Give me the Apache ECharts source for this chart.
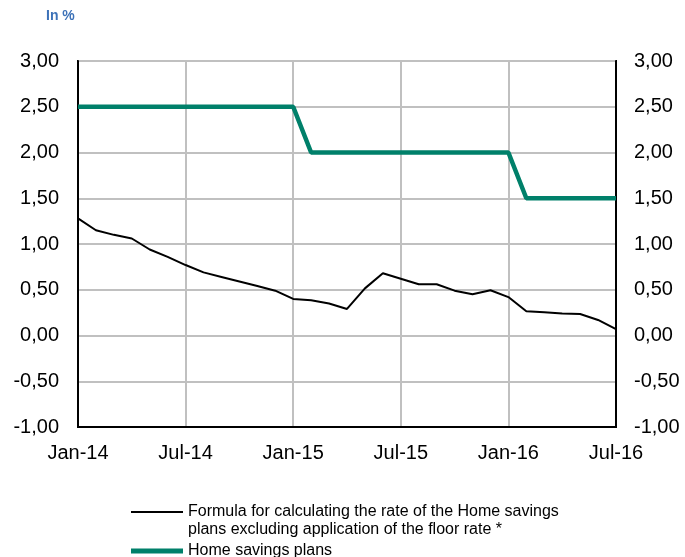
<!DOCTYPE html>
<html>
<head>
<meta charset="utf-8">
<script src="https://cdn.jsdelivr.net/npm/echarts@6/dist/echarts.min.js"></script>
<style>
html,body{margin:0;padding:0;background:#fff;}
#chart{width:685px;height:557px;}
</style>
</head>
<body>
<div id="chart"></div>
<script>
const months = ['Jan-14','Feb-14','Mar-14','Apr-14','May-14','Jun-14','Jul-14','Aug-14','Sep-14','Oct-14','Nov-14','Dec-14',
  'Jan-15','Feb-15','Mar-15','Apr-15','May-15','Jun-15','Jul-15','Aug-15','Sep-15','Oct-15','Nov-15','Dec-15',
  'Jan-16','Feb-16','Mar-16','Apr-16','May-16','Jun-16','Jul-16'];
const formulaRate = [1.28,1.15,1.10,1.06,0.94,0.86,0.77,0.69,0.64,0.59,0.54,0.49,
  0.40,0.385,0.35,0.29,0.515,0.68,0.62,0.56,0.56,0.49,0.45,0.495,
  0.42,0.265,0.255,0.24,0.235,0.17,0.07];
const homeSavings = [2.5,2.5,2.5,2.5,2.5,2.5,2.5,2.5,2.5,2.5,2.5,2.5,
  2.5,2.0,2.0,2.0,2.0,2.0,2.0,2.0,2.0,2.0,2.0,2.0,
  2.0,1.5,1.5,1.5,1.5,1.5,1.5];
const formulaName = 'Formula for calculating the rate of the Home savings\nplans excluding application of the floor rate *';
const homeName = 'Home savings plans';
const unitLabel = 'In %';

const chart = echarts.init(document.getElementById('chart'));
const fontFam = '"Liberation Sans", Arial, sans-serif';
const yAxisCommon = {
  type: 'value', min: -1, max: 3, interval: 0.5,
  axisLine: {show: true, lineStyle: {color: '#000', width: 2}},
  axisTick: {show: false},
  axisLabel: {color: '#000', fontSize: 20, fontFamily: fontFam,
    formatter: v => v.toFixed(2).replace('.', ',')}
};
const legendText = {fontSize: 16, fontFamily: fontFam, color: '#000', lineHeight: 18};
chart.setOption({
  animation: false,
  backgroundColor: '#fff',
  title: {text: unitLabel, left: 46, top: 9, padding: 0,
    textStyle: {color: '#3d72b8', fontSize: 14, fontWeight: 'bold', fontFamily: fontFam}},
  grid: {left: 78, right: 69, top: 61, height: 366, containLabel: false,
    show: true, borderColor: '#000', borderWidth: 2},
  legend: [
    {data: [formulaName], orient: 'vertical', left: 131, top: 485, padding: 0,
     itemWidth: 52, itemHeight: 2, icon: 'rect', itemGap: 0,
     formatter: n => '\n' + n, textStyle: legendText},
    {data: [homeName], orient: 'vertical', left: 131, top: 542, padding: 0,
     itemWidth: 52, itemHeight: 5, icon: 'rect',
     textStyle: legendText}
  ],
  xAxis: {
    type: 'category', data: months, boundaryGap: false,
    axisLine: {show: true, onZero: false, lineStyle: {color: '#000', width: 2}},
    axisTick: {show: false},
    axisLabel: {interval: 5, color: '#000', fontSize: 20, fontFamily: fontFam, margin: 16},
    splitLine: {show: true, interval: 5, lineStyle: {color: '#c0c0c0', width: 2}}
  },
  yAxis: [
    Object.assign({}, yAxisCommon, {position: 'left',
      splitLine: {show: true, lineStyle: {color: '#c0c0c0', width: 2}},
      axisLabel: Object.assign({}, yAxisCommon.axisLabel, {margin: 19})}),
    Object.assign({}, yAxisCommon, {position: 'right', splitLine: {show: false},
      axisLabel: Object.assign({}, yAxisCommon.axisLabel, {margin: 18})})
  ],
  series: [
    {name: formulaName, type: 'line', data: formulaRate, showSymbol: false, symbol: 'none',
     lineStyle: {color: '#000', width: 2}, itemStyle: {color: '#000'}},
    {name: homeName, type: 'line', data: homeSavings, showSymbol: false, symbol: 'none',
     lineStyle: {color: '#00806a', width: 4.5}, itemStyle: {color: '#00806a'}}
  ]
});
</script>
</body>
</html>
